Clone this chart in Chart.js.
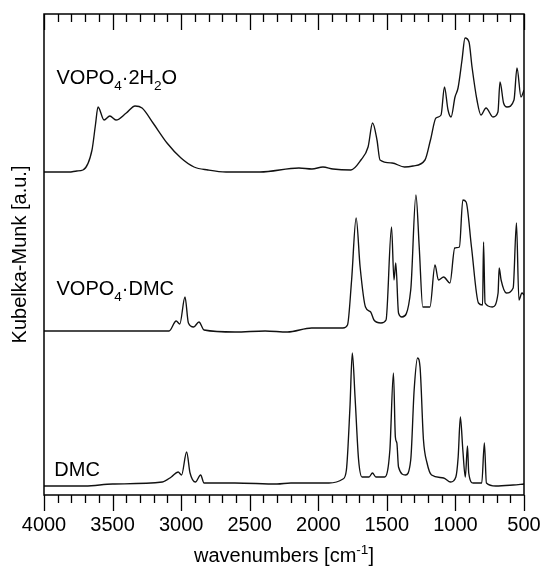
<!DOCTYPE html>
<html>
<head>
<meta charset="utf-8">
<title>DRIFT spectra</title>
<script src="https://cdn.jsdelivr.net/npm/chart.js@4.4.0/dist/chart.umd.min.js"></script>
<style>
  html, body { margin: 0; padding: 0; background: #fff; }
  #wrap { width: 544px; height: 572px; }
</style>
</head>
<body>
<div id="wrap"><canvas id="spectra" width="544" height="572"></canvas></div>
<script>
// --- DATA (Kubelka-Munk in a.u., curves already stacked) ---
const hydrateWn = [4000, 3817, 3760, 3716, 3650, 3625, 3606, 3562, 3520, 3475,
  3400, 3336, 3285, 3205, 3103, 3001, 2906, 2804, 2673, 2425,
  2141, 2046, 1966, 1893, 1762, 1689, 1637, 1604, 1572, 1550,
  1462, 1371, 1309, 1222, 1182, 1142, 1105, 1080, 1054, 1032,
  1003, 981, 952, 930, 901, 879, 843, 814, 777, 726,
  690, 675, 649, 624, 573, 551, 522, 500];
const hydrateKm = [323, 323, 324, 325, 345, 370, 388, 375, 379, 375,
  382, 389, 387, 372, 352, 337, 328, 325, 323, 323,
  327, 326, 328, 326, 325, 335, 348, 372, 355, 335,
  332, 328, 329, 335, 355, 377, 380, 408, 385, 378,
  398, 407, 435, 457, 453, 428, 395, 380, 387, 378,
  383, 413, 392, 388, 395, 427, 398, 405];

const complexWn = [4000, 3500, 3088, 3036, 3010, 2972, 2947, 2909, 2870, 2833,
  2607, 2388, 2225, 2048, 1820, 1787, 1757, 1724, 1695, 1656,
  1618, 1594, 1543, 1506, 1466, 1448, 1435, 1415, 1390, 1326,
  1288, 1264, 1238, 1186, 1149, 1124, 1086, 1040, 1005, 971,
  946, 922, 883, 832, 802, 795, 784, 731, 689, 681,
  667, 629, 579, 555, 537, 515, 500];
const complexKm = [164, 164, 164, 174, 171, 198, 172, 168, 173, 165,
  163, 164, 163, 167, 167, 170, 215, 277, 228, 188,
  183, 175, 172, 175, 268, 215, 232, 182, 178, 205,
  300, 248, 188, 188, 230, 215, 218, 212, 247, 248,
  295, 293, 248, 192, 190, 253, 192, 188, 202, 227,
  215, 202, 207, 272, 195, 202, 200];

const dmcWn = [4000, 3700, 3500, 3137, 3072, 3022, 2997, 2960, 2935, 2896,
  2858, 2833, 2608, 2301, 2200, 1922, 1820, 1795, 1769, 1752,
  1732, 1706, 1681, 1630, 1605, 1580, 1516, 1478, 1452, 1438,
  1427, 1415, 1364, 1326, 1301, 1276, 1258, 1233, 1207, 1174,
  1086, 1035, 997, 980, 964, 946, 928, 912, 903, 871,
  808, 789, 774, 706, 579, 500];
const dmcKm = [9, 9, 11, 13, 18, 23, 20, 43, 22, 13,
  20, 12, 12, 11, 12, 12, 16, 25, 88, 142,
  98, 35, 18, 18, 22, 18, 18, 45, 122, 58,
  52, 28, 20, 35, 105, 137, 128, 55, 32, 20,
  17, 13, 18, 38, 78, 45, 18, 49, 22, 12,
  12, 52, 12, 9, 10, 11];

const seriesLabels = ['VOPO_4·2H_2O', 'VOPO_4·DMC', 'DMC'];
const xTickValues = [4000, 3500, 3000, 2500, 2000, 1500, 1000, 500];
const xTitle = 'wavenumbers [cm^{-1}]';
const yTitle = 'Kubelka-Munk [a.u.]';

// --- LAYOUT / STYLE ---
const FONT = "'Liberation Sans', Arial, sans-serif";
const labelAnchors = [{ wn: 3909, km: 411 }, { wn: 3909, km: 200 }, { wn: 3925, km: 19 }];

Chart.defaults.font.family = FONT;
Chart.defaults.color = '#000';

const toPoints = (wn, km) => wn.map((w, i) => ({ x: w, y: km[i] }));

// text with _sub / ^sup pieces
function drawRichText(ctx, text, x, y, size, align) {
  const tokens = text.split(/([_^](?:\{[^}]*\}|.))/).filter(Boolean);
  const pieces = tokens.map(tok => {
    if (tok[0] === '_' || tok[0] === '^') {
      const body = tok.slice(1).replace(/[{}]/g, '');
      return { str: body, size: size * 0.68, dy: tok[0] === '_' ? size * 0.28 : -size * 0.42 };
    }
    return { str: tok, size: size, dy: 0 };
  });
  let width = 0;
  pieces.forEach(p => {
    ctx.font = `${p.size}px ${FONT}`;
    p.w = ctx.measureText(p.str).width;
    width += p.w;
  });
  let cx = align === 'center' ? x - width / 2 : x;
  ctx.textAlign = 'left';
  ctx.textBaseline = 'alphabetic';
  pieces.forEach(p => {
    ctx.font = `${p.size}px ${FONT}`;
    ctx.fillText(p.str, cx, y + p.dy);
    cx += p.w;
  });
}

const frameAndTicks = {
  id: 'frameAndTicks',
  afterDraw(chart) {
    const { ctx, chartArea: a, scales: { x, y } } = chart;
    ctx.save();
    ctx.strokeStyle = '#000';
    ctx.lineWidth = 1.5;
    ctx.strokeRect(a.left, a.top, a.right - a.left, a.bottom - a.top);

    // minor ticks every 100, major every 500 (outside at bottom, inside at top)
    ctx.lineWidth = 1.3;
    ctx.beginPath();
    for (let wn = x.min; wn <= x.max; wn += 100) {
      const px = Math.round(x.getPixelForValue(wn)) + 0.5;
      const len = wn % 500 === 0 ? 16 : 8;
      ctx.moveTo(px, a.bottom);
      ctx.lineTo(px, a.bottom + len);
      ctx.moveTo(px, a.top);
      ctx.lineTo(px, a.top + len);
    }
    ctx.stroke();

    ctx.fillStyle = '#000';
    seriesLabels.forEach((txt, i) => {
      const anc = labelAnchors[i];
      drawRichText(ctx, txt, x.getPixelForValue(anc.wn), y.getPixelForValue(anc.km), 20, 'left');
    });
    drawRichText(ctx, xTitle, (a.left + a.right) / 2, 562, 20, 'center');
    ctx.restore();
  }
};

const lineStyle = {
  borderColor: '#111',
  borderWidth: 1.35,
  pointRadius: 0,
  fill: false,
  cubicInterpolationMode: 'monotone'
};

new Chart(document.getElementById('spectra'), {
  type: 'line',
  data: {
    datasets: [
      { label: 'VOPO4·2H2O', data: toPoints(hydrateWn, hydrateKm), ...lineStyle },
      { label: 'VOPO4·DMC', data: toPoints(complexWn, complexKm), ...lineStyle },
      { label: 'DMC', data: toPoints(dmcWn, dmcKm), ...lineStyle }
    ]
  },
  options: {
    responsive: false,
    animation: false,
    layout: { padding: { top: 14, right: 20, left: 0, bottom: 0 } },
    plugins: { legend: { display: false }, tooltip: { enabled: false } },
    scales: {
      x: {
        type: 'linear',
        reverse: true,
        min: 500,
        max: 4000,
        afterFit: s => {
          s.height = 77;
          // the end labels may hang over the frame, don't shrink the plot for them
          s.paddingLeft = 0;
          s.paddingRight = 0;
        },
        afterBuildTicks: s => { s.ticks = xTickValues.map(v => ({ value: v })); },
        grid: { display: false, drawTicks: false },
        border: { display: false },
        ticks: {
          font: { size: 20 },
          color: '#000',
          padding: 18,
          maxRotation: 0,
          autoSkip: false,
          callback: v => String(v)
        }
      },
      y: {
        min: 0,
        max: 481,
        afterFit: s => { s.width = 44; },
        grid: { display: false, drawTicks: false },
        border: { display: false },
        ticks: { display: false },
        title: {
          display: true,
          text: yTitle,
          font: { size: 20 },
          color: '#000',
          padding: { top: 8, bottom: 0 }
        }
      }
    }
  },
  plugins: [frameAndTicks]
});
</script>
</body>
</html>
